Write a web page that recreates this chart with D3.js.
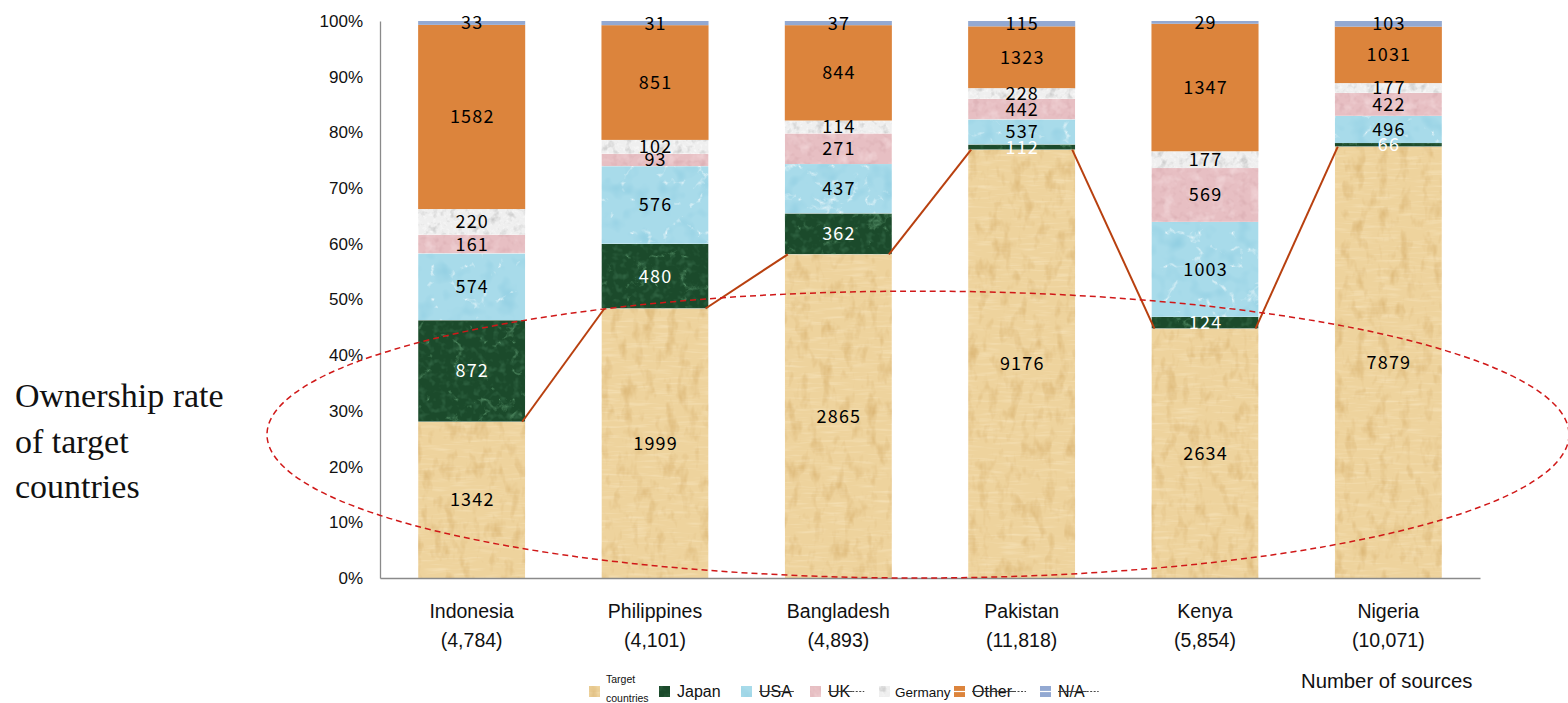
<!DOCTYPE html>
<html>
<head>
<meta charset="utf-8">
<script src="https://cdn.jsdelivr.net/npm/d3@7"></script>
<style>
  html, body { margin: 0; padding: 0; background: #fff; }
  svg { display: block; }
</style>
</head>
<body>
<svg id="chart" width="1568" height="703"></svg>
<script>
// Source ownership by country of the publishing outlet
const categories   = ["Indonesia", "Philippines", "Bangladesh", "Pakistan", "Kenya", "Nigeria"];
const sourceCounts = ["4,784", "4,101", "4,893", "11,818", "5,854", "10,071"];
const seriesNames  = ["Target countries", "Japan", "USA", "UK", "Germany", "Other", "N/A"];

const targetValues  = [1342, 1999, 2865, 9176, 2634, 7879];
const japanValues   = [872, 480, 362, 112, 124, 66];
const usaValues     = [574, 576, 437, 537, 1003, 496];
const ukValues      = [161, 93, 271, 442, 569, 422];
const germanyValues = [220, 102, 114, 228, 177, 177];
const otherValues   = [1582, 851, 844, 1323, 1347, 1031];
const naValues      = [33, 31, 37, 115, 29, 103];

const yTicks = [0, 0.1, 0.2, 0.3, 0.4, 0.5, 0.6, 0.7, 0.8, 0.9, 1.0];

const seriesValues = [targetValues, japanValues, usaValues, ukValues, germanyValues, otherValues, naValues];
const rows = categories.map((c, i) => {
  const r = { category: c, sources: sourceCounts[i] };
  seriesNames.forEach((s, k) => { r[s] = seriesValues[k][i]; });
  return r;
});

// fill styles: base colour plus an optional noise texture
// mode "veins" lights up the thin low-valued ridges of turbulence noise
const styles = {
  "Target countries": { base: "#eed39d", tex: { freq: "0.09 0.05", oct: 3, seed: 4, col: "#d2a862", amt: 0.45, freq2: "0.04 0.35", col2: "#fbeccb", amt2: 0.35 }, label: "#000" },
  "Japan":            { base: "#1b4a2b", tex: { freq: "0.035", oct: 4, seed: 7, col: "#5e9a70", amt: 0.8, type: "turbulence", mode: "veins", freq2: "0.15", col2: "#3d7552", amt2: 0.5 }, label: "#fff" },
  "USA":              { base: "#a8dbea", tex: { freq: "0.03", oct: 4, seed: 11, col: "#f4fbfd", amt: 0.85, type: "turbulence", mode: "veins", freq2: "0.06", col2: "#80c5dc", amt2: 0.4 }, label: "#000" },
  "UK":               { base: "#e7bfc3", tex: { freq: "0.08", oct: 3, seed: 5, col: "#f6dfe1", amt: 0.5, freq2: "0.15", col2: "#cf9ea4", amt2: 0.35 }, label: "#000" },
  "Germany":          { base: "#efefef", tex: { freq: "0.12", oct: 3, seed: 9, col: "#c6c6c6", amt: 0.8, freq2: "0.3", col2: "#ffffff", amt2: 0.5 }, label: "#000" },
  "Other":            { base: "#dc843c", label: "#000" },
  "N/A":              { base: "#93a9d2", label: "#000" }
};

const svg = d3.select("#chart");
const defs = svg.append("defs");

function hexToRgb(h) { const c = d3.rgb(h); return [c.r / 255, c.g / 255, c.b / 255]; }

function noiseLayer(f, freq, oct, seed, type, mode, col, amt, name) {
  const [r, g, b] = hexToRgb(col);
  f.append("feTurbulence")
    .attr("type", type || "fractalNoise")
    .attr("baseFrequency", freq)
    .attr("numOctaves", oct)
    .attr("seed", seed)
    .attr("result", name + "n");
  let k, off;
  if (mode === "veins") {
    // bright where turbulence is close to zero
    k = -6 * amt;
    off = 0.9 * amt;
  } else {
    // alpha rises where the noise is above its midpoint
    k = 3.2 * amt;
    off = type === "turbulence" ? -0.55 * k : -0.5 * k;
  }
  f.append("feColorMatrix")
    .attr("in", name + "n")
    .attr("type", "matrix")
    .attr("values", `0 0 0 0 ${r}  0 0 0 0 ${g}  0 0 0 0 ${b}  ${k} 0 0 0 ${off}`)
    .attr("result", name + "c");
}

Object.entries(styles).forEach(([name, st], idx) => {
  if (!st.tex) return;
  const t = st.tex;
  const f = defs.append("filter")
    .attr("id", "tex" + idx)
    .attr("x", 0).attr("y", 0).attr("width", 1).attr("height", 1)
    .attr("color-interpolation-filters", "sRGB");
  noiseLayer(f, t.freq2, 2, t.seed + 20, "fractalNoise", null, t.col2, t.amt2, "b");
  noiseLayer(f, t.freq, t.oct, t.seed, t.type, t.mode, t.col, t.amt, "a");
  const m = f.append("feMerge").attr("result", "m");
  m.append("feMergeNode").attr("in", "SourceGraphic");
  m.append("feMergeNode").attr("in", "bc");
  m.append("feMergeNode").attr("in", "ac");
  f.append("feComposite").attr("in", "m").attr("in2", "SourceGraphic").attr("operator", "in");
  st.filter = `url(#tex${idx})`;
});

// scales
const x = d3.scaleBand()
  .domain(categories)
  .range([380, 1480])
  .paddingInner(0.416)
  .paddingOuter(0.208);

const y = d3.scaleLinear().domain([0, 1]).range([578, 21]);

const stack = d3.stack().keys(seriesNames).offset(d3.stackOffsetExpand);
const layers = stack(rows);

// bars
const gBars = svg.append("g");
layers.forEach(layer => {
  const st = styles[layer.key];
  gBars.append("g")
    .selectAll("rect")
    .data(layer)
    .join("rect")
    .attr("x", d => x(d.data.category))
    .attr("width", x.bandwidth())
    .attr("y", d => y(d[1]))
    .attr("height", d => y(d[0]) - y(d[1]))
    .attr("fill", st.base)
    .attr("filter", st.filter || null);
});

// value labels
const gLabels = svg.append("g")
  .attr("font-family", "'Noto Sans CJK JP', 'DejaVu Sans', sans-serif")
  .attr("font-size", 18)
  .attr("letter-spacing", 1.2)
  .attr("text-anchor", "middle");
layers.forEach(layer => {
  const st = styles[layer.key];
  gLabels.append("g")
    .selectAll("text")
    .data(layer)
    .join("text")
    .attr("x", d => x(d.data.category) + x.bandwidth() / 2 + 0.6)
    .attr("y", d => (y(d[0]) + y(d[1])) / 2)
    .attr("dy", "0.36em")
    .attr("fill", st.label)
    .text(d => d.data[layer.key]);
});

// connectors between the tops of the target-country segments
const targetLayer = layers[0];
const connectors = d3.pairs(targetLayer).map(([a, b]) => [
  [x(a.data.category) + x.bandwidth() - 3, y(a[1])],
  [x(b.data.category) + 3, y(b[1])]
]);
svg.append("g")
  .selectAll("path")
  .data(connectors)
  .join("path")
  .attr("d", d3.line())
  .attr("stroke", "#b8400f")
  .attr("stroke-width", 2)
  .attr("fill", "none");

// y axis
const yAxis = svg.append("g")
  .attr("transform", "translate(380,0)")
  .call(d3.axisLeft(y).tickValues(yTicks).tickSize(0).tickPadding(17).tickFormat(d3.format(".0%")));
yAxis.select(".domain").attr("stroke", "#8a8a8a").attr("stroke-width", 1.3);
yAxis.selectAll("text")
  .attr("font-family", "'Liberation Sans', Arial, sans-serif")
  .attr("font-size", 17)
  .attr("fill", "#111");

// x axis
const xAxis = svg.append("g")
  .attr("transform", "translate(0,578)")
  .call(d3.axisBottom(x).tickSize(0).tickPadding(0));
xAxis.select(".domain").attr("stroke", "#8a8a8a").attr("stroke-width", 1.3);
xAxis.selectAll(".tick text").each(function (c) {
  const t = d3.select(this).text(null)
    .attr("font-family", "'Liberation Sans', Arial, sans-serif")
    .attr("font-size", 19.5)
    .attr("fill", "#111")
    .attr("y", 40)
    .attr("dy", 0);
  t.append("tspan").attr("x", 0).attr("y", 40).text(c);
  t.append("tspan").attr("x", 0).attr("y", 69).text(`(${sourceCounts[categories.indexOf(c)]})`);
});

// dashed ellipse around the target-country shares
svg.append("ellipse")
  .attr("cx", (267 + 1569) / 2)
  .attr("cy", (y(0.515) + y(0)) / 2)
  .attr("rx", (1569 - 267) / 2)
  .attr("ry", (y(0) - y(0.515)) / 2)
  .attr("fill", "none")
  .attr("stroke", "#d01818")
  .attr("stroke-width", 1.5)
  .attr("stroke-dasharray", "6 4");

// side note
const note = svg.append("text")
  .attr("font-family", "'Liberation Serif', 'Times New Roman', serif")
  .attr("font-size", 34)
  .attr("fill", "#111");
["Ownership rate", "of target", "countries"].forEach((line, i) => {
  note.append("tspan").attr("x", 15).attr("y", 407 + i * 45.5).text(line);
});

svg.append("text")
  .attr("x", 1301).attr("y", 688)
  .attr("font-family", "'Liberation Sans', Arial, sans-serif")
  .attr("font-size", 20.3)
  .attr("fill", "#111")
  .text("Number of sources");

// legend
const legendX = [589, 659, 741, 810, 879, 954, 1040];
const legend = svg.append("g").attr("font-family", "'Liberation Sans', Arial, sans-serif").attr("fill", "#111");
seriesNames.forEach((name, i) => {
  const st = styles[name];
  const g = legend.append("g").attr("transform", `translate(${legendX[i]},0)`);
  g.append("rect").attr("x", 0).attr("y", 686).attr("width", 11).attr("height", 11)
    .attr("fill", st.base).attr("filter", st.filter || null);
  if (name === "Other" || name === "N/A") {
    g.append("line").attr("x1", 0).attr("x2", 11).attr("y1", 691.5).attr("y2", 691.5)
      .attr("stroke", "#fff").attr("stroke-width", 1.2);
  }
  if (name === "Target countries") {
    const t = g.append("text").attr("font-size", 10.5);
    t.append("tspan").attr("x", 17).attr("y", 683).text("Target");
    t.append("tspan").attr("x", 17).attr("y", 702).text("countries");
  } else {
    const x0 = name === "Germany" ? 16 : 18;
    const txt = g.append("text")
      .attr("x", x0)
      .attr("y", 697)
      .attr("font-size", name === "Germany" ? 13.5 : 16)
      .text(name);
    if (["USA", "UK", "Other", "N/A"].includes(name)) {
      const w = txt.node().getComputedTextLength();
      g.append("line").attr("x1", x0).attr("x2", x0 + w + 2).attr("y1", 691.5).attr("y2", 691.5)
        .attr("stroke", "#333").attr("stroke-width", 0.9);
      if (name !== "USA") {
        g.append("line").attr("x1", x0 + w + 2).attr("x2", x0 + w + 14).attr("y1", 691.5).attr("y2", 691.5)
          .attr("stroke", "#333").attr("stroke-width", 0.9).attr("stroke-dasharray", "2 1.5");
      }
    }
  }
});
</script>
</body>
</html>
